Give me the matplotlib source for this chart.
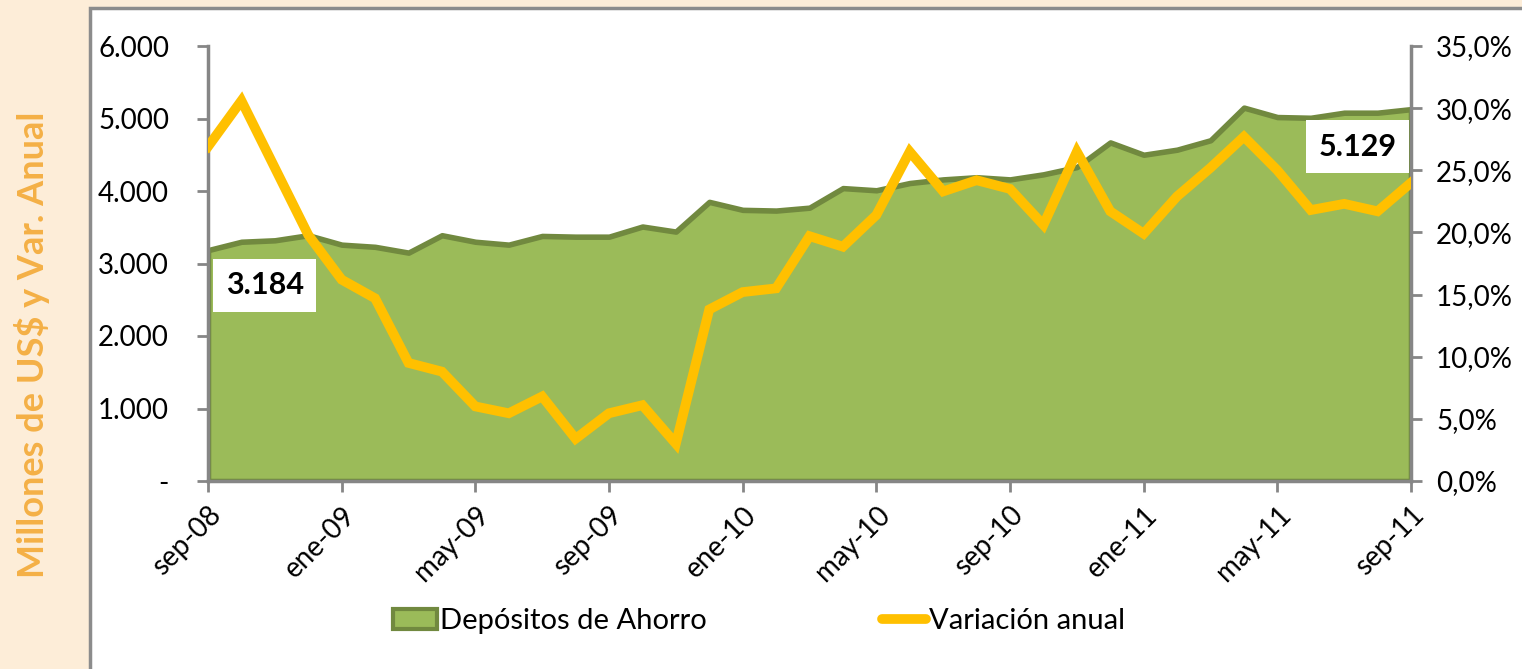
import numpy as np
import matplotlib
matplotlib.use('Agg')
import matplotlib.pyplot as plt
from matplotlib.patches import Rectangle, Patch
from matplotlib.lines import Line2D
from matplotlib.ticker import FuncFormatter

plt.rcParams['font.family'] = ['Lato', 'DejaVu Sans']

# datos mensuales sep-08 .. sep-11
meses = ['sep-08', 'oct-08', 'nov-08', 'dic-08', 'ene-09', 'feb-09', 'mar-09', 'abr-09',
         'may-09', 'jun-09', 'jul-09', 'ago-09', 'sep-09', 'oct-09', 'nov-09', 'dic-09',
         'ene-10', 'feb-10', 'mar-10', 'abr-10', 'may-10', 'jun-10', 'jul-10', 'ago-10',
         'sep-10', 'oct-10', 'nov-10', 'dic-10', 'ene-11', 'feb-11', 'mar-11', 'abr-11',
         'may-11', 'jun-11', 'jul-11', 'ago-11', 'sep-11']
depositos = [3184, 3300, 3320, 3390, 3260, 3230, 3150, 3390, 3300, 3260, 3380, 3370,
             3370, 3510, 3440, 3850, 3740, 3730, 3770, 4040, 4010, 4110, 4160, 4190,
             4160, 4230, 4330, 4670, 4500, 4570, 4700, 5150, 5020, 5010, 5080, 5080, 5129]
variacion = [26.9, 30.6, 25.2, 19.8, 16.2, 14.7, 9.5, 8.8, 6.0, 5.45, 6.8, 3.4,
             5.45, 6.1, 3.0, 13.8, 15.2, 15.5, 19.7, 18.85, 21.4, 26.5, 23.3, 24.2,
             23.5, 20.6, 26.5, 21.7, 19.9, 22.9, 25.2, 27.7, 25.0, 21.8, 22.3, 21.7, 24.0]

verde = '#9BBB59'
verde_borde = '#71893F'
amarillo = '#FFC000'
gris = '#868686'
fondo = '#FDEDD8'

x = np.arange(len(meses))

fig = plt.figure(figsize=(15.22, 6.69), dpi=100, facecolor=fondo)
# panel blanco con borde gris
fig.patches.append(Rectangle((90 / 1522, -0.01), 1.0, 1.01 - 8 / 669, transform=fig.transFigure,
                             facecolor='white', edgecolor='#8C8C8C', linewidth=2.5, zorder=-5))

ax = fig.add_axes([208 / 1522, 1 - 481 / 669, (1411 - 208) / 1522, (481 - 46) / 669])
ax.set_facecolor('none')
ax.fill_between(x, 0, depositos, facecolor=verde, edgecolor=verde_borde, linewidth=4, zorder=2)
ax.set_xlim(0, len(meses) - 1)
ax.set_ylim(0, 6000)
ax.set_yticks(np.arange(0, 6001, 1000))
ax.yaxis.set_major_formatter(FuncFormatter(lambda v, p: '-' if v == 0 else f'{int(v):,}'.replace(',', '.')))
ax.set_xticks(x[::4])
ax.set_xticklabels(meses[::4], rotation=45, ha='right', rotation_mode='anchor')

ax2 = ax.twinx()
ax2.plot(x, variacion, color=amarillo, linewidth=7, solid_joinstyle='miter', zorder=3)
ax2.set_ylim(0, 35)
ax2.set_yticks(np.arange(0, 36, 5))
ax2.yaxis.set_major_formatter(FuncFormatter(lambda v, p: f'{v:.1f}%'.replace('.', ',')))

for a in (ax, ax2):
    for s in a.spines.values():
        s.set_visible(False)
    a.tick_params(colors=gris, labelcolor='black', labelsize=20, length=8, width=2)
ax.spines['left'].set_visible(True)
ax.spines['left'].set_color(gris)
ax.spines['left'].set_linewidth(2.5)
ax.spines['bottom'].set_visible(True)
ax.spines['bottom'].set_color(gris)
ax.spines['bottom'].set_linewidth(2.5)
ax2.spines['right'].set_visible(True)
ax2.spines['right'].set_color(gris)
ax2.spines['right'].set_linewidth(2.5)
ax.tick_params(axis='y', pad=20)
ax.tick_params(axis='x', pad=7)
ax2.tick_params(axis='y', pad=10)

# etiquetas de valor
ax.text(1.7, 2700, '3.184', fontsize=22, fontweight='bold', ha='center', va='center',
        bbox=dict(facecolor='white', edgecolor='none', pad=9), zorder=5)
ax.text(34.4, 4610, '5.129', fontsize=22, fontweight='bold', ha='center', va='center',
        bbox=dict(facecolor='white', edgecolor='none', pad=9), zorder=5)

fig.text(32 / 1522, 1 - 345 / 669, 'Millones de US$ y Var. Anual', rotation=90,
         ha='center', va='center', fontsize=26, fontweight='bold', color='#F4B046')

handles = [Patch(facecolor=verde, edgecolor=verde_borde, linewidth=3),
           Line2D([0], [0], color=amarillo, linewidth=7, solid_capstyle='round')]
fig.legend(handles, ['Depósitos de Ahorro', 'Variación anual'], loc='center',
           bbox_to_anchor=(759 / 1522, 1 - 621 / 669), ncol=2, frameon=False,
           fontsize=21, handlelength=1.5, handletextpad=0.1, columnspacing=6.0)

fig.savefig('out.png', dpi=100, facecolor=fondo)
